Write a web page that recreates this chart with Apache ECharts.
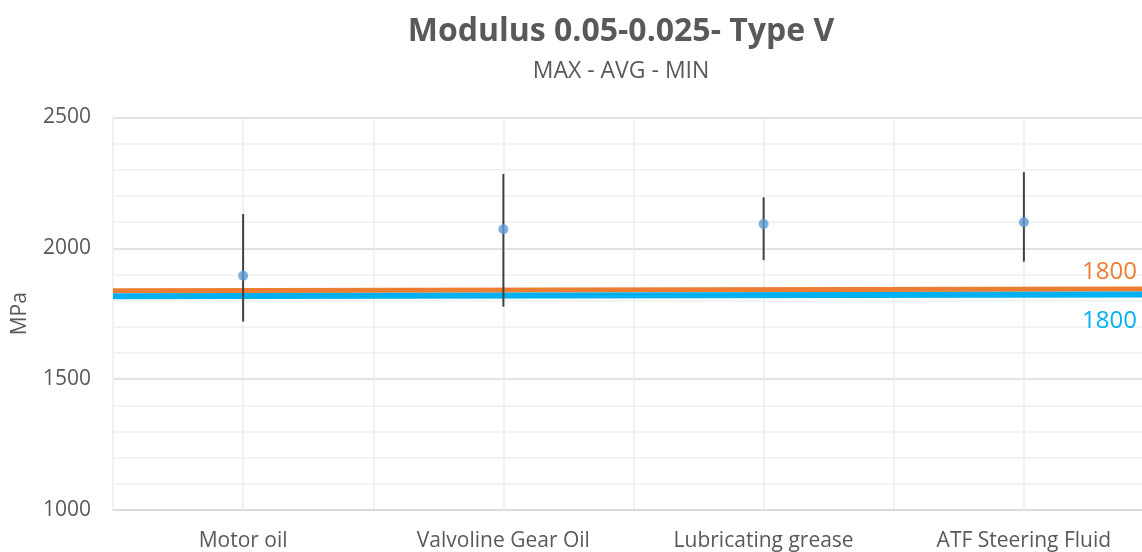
<!DOCTYPE html>
<html>
<head>
<meta charset="utf-8">
<script src="https://cdn.jsdelivr.net/npm/echarts@6/dist/echarts.min.js"></script>
<style>html,body{margin:0;padding:0;background:#fff}#c{width:1142px;height:552px}</style>
</head>
<body>
<div id="c"></div>
<script>
const categories = ['Motor oil', 'Valvoline Gear Oil', 'Lubricating grease', 'ATF Steering Fluid'];
const maxValues = [2131, 2284, 2195, 2291];
const avgValues = [1895, 2073, 2093, 2100];
const minValues = [1720, 1777, 1955, 1949];
const orangeLine = [1838, 1845];
const blueLine = [1817, 1824];
const limitLabels = ['1800', '1800'];
const yTicks = {min: 1000, max: 2500, interval: 500};

const font = '"Open Sans", "Noto Sans", sans-serif';
const textColor = '#595959';

const chart = echarts.init(document.getElementById('c'));
const option = {
  animation: false,
  title: {
    text: 'Modulus 0.05-0.025- Type V',
    subtext: 'MAX - AVG - MIN',
    left: 616, textAlign: 'center', top: 11, itemGap: 12,
    textStyle: {fontFamily: font, fontSize: 32, fontWeight: 'bold', color: textColor},
    subtextStyle: {fontFamily: font, fontSize: 23, color: textColor}
  },
  grid: {left: 113, right: -12, top: 117.5, bottom: 42, outerBoundsMode: 'none', containLabel: false},
  xAxis: [{
    type: 'category', data: categories,
    axisLine: {show: true, lineStyle: {color: '#d9d9d9', width: 1.5}},
    axisTick: {show: false},
    axisLabel: {fontFamily: font, fontSize: 21, color: textColor, margin: 21},
    splitLine: {show: true, lineStyle: {color: '#ececec', width: 1.5}}
  }, {
    type: 'value', min: 0, max: 1, show: false
  }],
  yAxis: {
    type: 'value', min: yTicks.min, max: yTicks.max, interval: yTicks.interval,
    name: 'MPa', nameLocation: 'middle', nameRotate: 90, nameGap: 82,
    nameTextStyle: {fontFamily: font, fontSize: 21, color: textColor},
    axisLine: {show: false}, axisTick: {show: false},
    axisLabel: {fontFamily: font, fontSize: 21, color: textColor, margin: 22,
      formatter: v => String(v)},
    splitLine: {show: true, lineStyle: {color: '#d9d9d9', width: 1.5}},
    minorTick: {show: false, splitNumber: 5},
    minorSplitLine: {show: true, lineStyle: {color: '#efefef', width: 1.5}}
  },
  series: [{
    type: 'line', xAxisIndex: 1, data: [[0, orangeLine[0]], [1, orangeLine[1]]],
    symbol: 'none', lineStyle: {color: '#ED7D31', width: 5}, z: 3, silent: true
  }, {
    type: 'line', xAxisIndex: 1, data: [[0, blueLine[0]], [1, blueLine[1]]],
    symbol: 'none', lineStyle: {color: '#00B0F0', width: 6}, z: 3, silent: true
  }, {
    type: 'custom', xAxisIndex: 0, z: 4,
    data: categories.map((c, i) => [i, maxValues[i], minValues[i]]),
    renderItem: function (params, api) {
      const top = api.coord([api.value(0), api.value(1)]);
      const bot = api.coord([api.value(0), api.value(2)]);
      return {type: 'line', shape: {x1: top[0], y1: top[1], x2: bot[0], y2: bot[1]},
        style: {stroke: '#404040', lineWidth: 2}};
    },
    markLine: {
      silent: true, symbol: 'none', label: {show: false}, z: 1,
      lineStyle: {color: '#ececec', width: 1.5, type: 'solid'},
      emphasis: {disabled: true},
      data: categories.map(c => ({xAxis: c}))
    }
  }, {
    type: 'scatter', xAxisIndex: 0, z: 5,
    data: avgValues, symbol: 'circle', symbolSize: 10,
    itemStyle: {color: '#5B9BD5'}
  }]
};
chart.setOption(option);

const xr = 1137;
const yo = chart.convertToPixel({yAxisIndex: 0}, orangeLine[1]);
const yb = chart.convertToPixel({yAxisIndex: 0}, blueLine[1]);
chart.setOption({
  graphic: [{
    type: 'text', right: 1142 - xr, top: yo - 29,
    style: {text: limitLabels[0], fill: '#ED7D31', font: '24px ' + font, textAlign: 'right'}
  }, {
    type: 'text', right: 1142 - xr, top: yb + 15,
    style: {text: limitLabels[1], fill: '#00B0F0', font: '24px ' + font, textAlign: 'right'}
  }]
});
</script>
</body>
</html>
